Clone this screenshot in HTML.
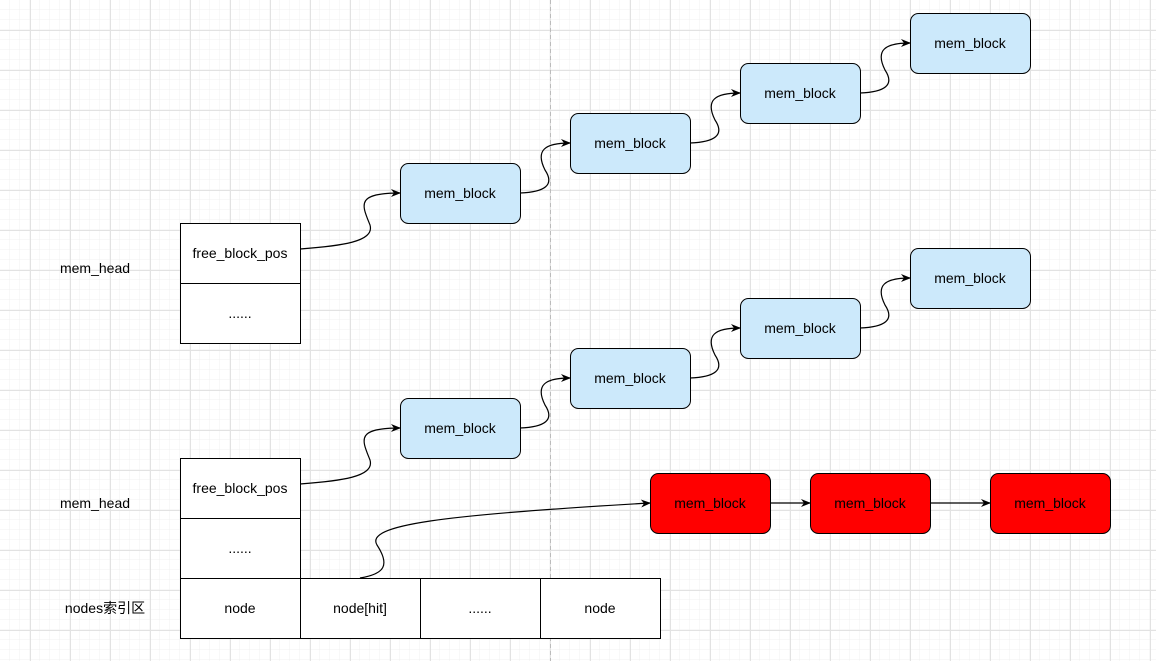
<!DOCTYPE html>
<html><head><meta charset="utf-8"><style>
html,body{margin:0;padding:0;background:#fff;}
svg{display:block;font-family:"Liberation Sans","Noto Sans CJK SC",sans-serif;}
</style></head><body>
<svg width="1156" height="661" xmlns="http://www.w3.org/2000/svg">
<defs>
<pattern id="g1" width="10" height="10" patternUnits="userSpaceOnUse" x="0" y="0"><path d="M10 0V10M0 10H10" fill="none" stroke="#f1f1f1" stroke-width="1"/></pattern>
<pattern id="g2" width="40" height="40" patternUnits="userSpaceOnUse" x="30" y="30"><path d="M0.5 0V40M0 0.5H40" fill="none" stroke="#e2e2e2" stroke-width="1"/></pattern>
<marker id="a" markerWidth="10" markerHeight="10" refX="9" refY="5" orient="auto" markerUnits="userSpaceOnUse"><path d="M0,1 L10,5 L0,9 L3,5 Z" fill="#000"/></marker>
</defs>
<rect width="1156" height="661" fill="url(#g1)"/>
<rect width="1156" height="661" fill="url(#g2)"/>
<line x1="550.5" y1="0" x2="550.5" y2="661" stroke="#bbb" stroke-dasharray="4,3"/>
<g fill="none" stroke="#000" stroke-width="1.2">
<path d="M300,249 C340,246 375,242 370,225 C362,205 355,193 400,193" marker-end="url(#a)"/>
<path d="M520,193 C545,192 555,185 545,170 C535,150 545,143 570,143" marker-end="url(#a)"/>
<path d="M690,143 C715,142 725,135 715,120 C705,100 715,93 740,93" marker-end="url(#a)"/>
<path d="M860,93 C885,92 895,85 885,70 C875,50 885,43 910,43" marker-end="url(#a)"/>
<path d="M300,484 C340,481 375,477 370,460 C362,440 355,428 400,428" marker-end="url(#a)"/>
<path d="M520,428 C545,427 555,420 545,405 C535,385 545,378 570,378" marker-end="url(#a)"/>
<path d="M690,378 C715,377 725,370 715,355 C705,335 715,328 740,328" marker-end="url(#a)"/>
<path d="M860,328 C885,327 895,320 885,305 C875,285 885,278 910,278" marker-end="url(#a)"/>
<path d="M360,578 C385,574 390,565 377,545 C365,525 440,515 650,503" marker-end="url(#a)"/>
<path d="M770,503 L810,503" marker-end="url(#a)"/>
<path d="M930,503 L990,503" marker-end="url(#a)"/>
</g>
<g stroke="#000" stroke-width="1" fill="#cce9fb">
<rect x="400.5" y="163.5" width="120" height="60" rx="8"/>
<rect x="570.5" y="113.5" width="120" height="60" rx="8"/>
<rect x="740.5" y="63.5" width="120" height="60" rx="8"/>
<rect x="910.5" y="13.5" width="120" height="60" rx="8"/>
<rect x="400.5" y="398.5" width="120" height="60" rx="8"/>
<rect x="570.5" y="348.5" width="120" height="60" rx="8"/>
<rect x="740.5" y="298.5" width="120" height="60" rx="8"/>
<rect x="910.5" y="248.5" width="120" height="60" rx="8"/>
</g>
<g stroke="#000" stroke-width="1" fill="#ff0000">
<rect x="650.5" y="473.5" width="120" height="60" rx="8"/>
<rect x="810.5" y="473.5" width="120" height="60" rx="8"/>
<rect x="990.5" y="473.5" width="120" height="60" rx="8"/>
</g>
<g stroke="#000" stroke-width="1" fill="#fff">
<rect x="180.5" y="223.5" width="120" height="60"/>
<rect x="180.5" y="283.5" width="120" height="60"/>
<rect x="180.5" y="458.5" width="120" height="60"/>
<rect x="180.5" y="518.5" width="120" height="60"/>
<rect x="180.5" y="578.5" width="120" height="60"/>
<rect x="300.5" y="578.5" width="120" height="60"/>
<rect x="420.5" y="578.5" width="120" height="60"/>
<rect x="540.5" y="578.5" width="120" height="60"/>
</g>
<g font-size="14" fill="#000" text-anchor="middle" dominant-baseline="central">
<text x="460" y="193">mem_block</text>
<text x="630" y="143">mem_block</text>
<text x="800" y="93">mem_block</text>
<text x="970" y="43">mem_block</text>
<text x="460" y="428">mem_block</text>
<text x="630" y="378">mem_block</text>
<text x="800" y="328">mem_block</text>
<text x="970" y="278">mem_block</text>
<text x="710" y="503">mem_block</text>
<text x="870" y="503">mem_block</text>
<text x="1050" y="503">mem_block</text>
<text x="240" y="253">free_block_pos</text>
<text x="240" y="313">......</text>
<text x="240" y="488">free_block_pos</text>
<text x="240" y="548">......</text>
<text x="240" y="608">node</text>
<text x="360" y="608">node[hit]</text>
<text x="480" y="608">......</text>
<text x="600" y="608">node</text>
<text x="95" y="268">mem_head</text>
<text x="95" y="503">mem_head</text>
<text x="105" y="608">nodes索引区</text>
</g>
</svg>
</body></html>
